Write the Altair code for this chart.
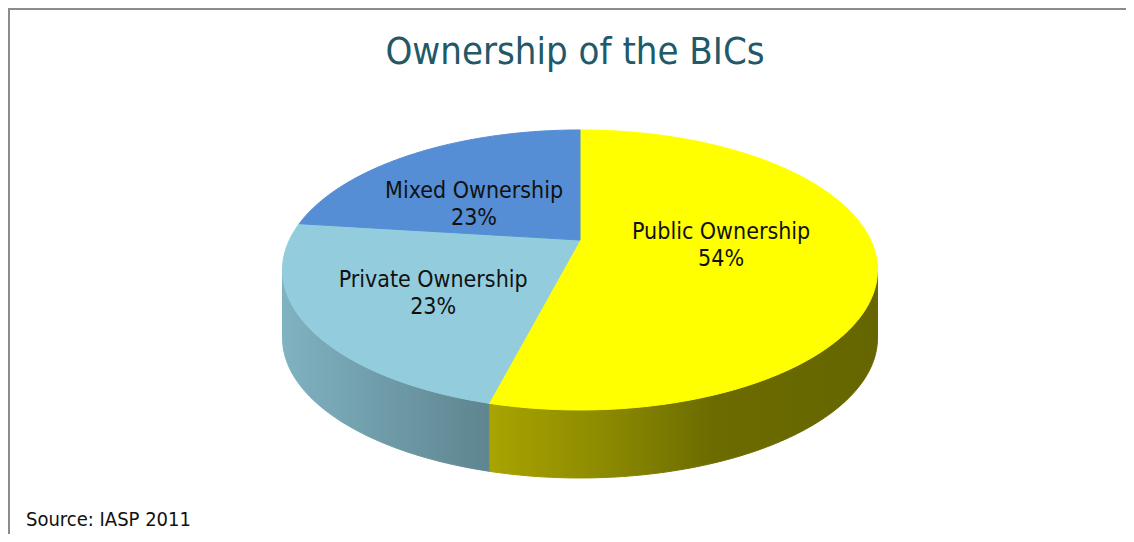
import altair as alt
import numpy as np
import pandas as pd

# ---- data ----
categories = ["Public Ownership", "Private Ownership", "Mixed Ownership"]
shares = [54, 23, 23]
pct_labels = ["54%", "23%", "23%"]
title_text = "Ownership of the BICs"
source_text = "Source: IASP 2011"

# ---- styles / layout ----
top_colors = ["#FFFF00", "#93CDDD", "#558ED5"]
side_gradients = {
    "Public Ownership": [("#A8A400", 0.0), ("#8C8A00", 0.3), ("#6B6B00", 0.58), ("#666600", 1.0)],
    "Private Ownership": [("#80B2C1", 0.0), ("#6F9BA8", 0.5), ("#5E8590", 1.0)],
}
label_nudges = [(-5, -16), (-19, 0), (-17, -3)]  # pixel nudges for the slice labels

W, H = 1118, 526
# perspective-projected disc: centre, horizontal / vertical scale, perspective k, wall depth
CX, CY, G, F, K, DEPTH = 572.0, 232.0, 290.6, 133.6, 0.214, 68.0
FONT = "DejaVu Sans Condensed, DejaVu Sans"


def pt(theta_deg, r=1.0, dy=0.0):
    t = np.radians(theta_deg)
    X, Z = r * np.sin(t), r * np.cos(t)
    den = 1.0 + K * Z
    return [float(CX + G * X / den), float(CY - F * Z / den + dy)]


def arc(a, b, dy=0.0):
    n = max(int(abs(b - a)), 2)
    return [pt(t, 1.0, dy) for t in np.linspace(a, b, n + 1)]


theta_w = float(np.degrees(np.arccos(-K)))  # silhouette (widest) angles
cum = np.concatenate([[0.0], np.cumsum(shares)]) / sum(shares) * 360.0

top_feats, side_feats, lbl_rows = [], {}, []
for i, name in enumerate(categories):
    a, b = cum[i], cum[i + 1]
    centre = pt(0.0, 0.0)
    ring = [centre] + arc(a, b) + [centre]
    top_feats.append({"type": "Feature", "properties": {"name": name},
                      "geometry": {"type": "Polygon", "coordinates": [ring]}})
    lo, hi = max(a, theta_w), min(b, 360.0 - theta_w)
    if lo < hi:
        top = arc(lo, hi)
        bot = arc(hi, lo, DEPTH)
        sring = top + bot + [top[0]]
        side_feats[name] = {"type": "Feature", "properties": {"name": name},
                            "geometry": {"type": "Polygon", "coordinates": [sring]}}
    lx, ly = pt((a + b) / 2, 0.5)
    lbl_rows.append({
        "label": name + "\n" + pct_labels[i],
        "lx": lx + label_nudges[i][0],
        "ly": ly + label_nudges[i][1],
    })

proj = dict(type="identity", scale=1, translate=[0, 0])


def geo_data(feats):
    return alt.InlineData(values={"type": "FeatureCollection", "features": feats},
                          format=alt.DataFormat(property="features", type="json"))


layers = []

# frame lines (top and left)
frame = pd.DataFrame({"k": [0]})
layers.append(alt.Chart(frame).mark_rule(color="#8C8C8C", strokeWidth=2).encode(
    x=alt.value(0), x2=alt.value(W), y=alt.value(1)))
layers.append(alt.Chart(frame).mark_rule(color="#8C8C8C", strokeWidth=2).encode(
    x=alt.value(1), y=alt.value(0), y2=alt.value(H)))

# side walls with horizontal gradients
for name, feat in side_feats.items():
    grad = alt.LinearGradient(
        gradient="linear",
        stops=[alt.GradientStop(color=c, offset=o) for c, o in side_gradients[name]],
        x1=0, x2=1, y1=0, y2=0)
    layers.append(alt.Chart(geo_data([feat])).mark_geoshape(
        fill=grad, stroke=grad, strokeWidth=1).project(**proj))

# top faces
layers.append(alt.Chart(geo_data(top_feats)).mark_geoshape(strokeWidth=1).encode(
    fill=alt.Fill("properties.name:N", scale=alt.Scale(domain=categories, range=top_colors), legend=None),
    stroke=alt.Stroke("properties.name:N", scale=alt.Scale(domain=categories, range=top_colors), legend=None),
).project(**proj))

# slice labels
lbl_df = pd.DataFrame(lbl_rows)
layers.append(alt.Chart(lbl_df).mark_text(
    lineBreak="\n", fontSize=23, lineHeight=27, font=FONT, color="#111111",
    align="center", baseline="middle").encode(
    longitude="lx:Q", latitude="ly:Q", text="label:N").project(**proj))

# title
layers.append(alt.Chart(pd.DataFrame({"t": [title_text]})).mark_text(
    fontSize=38, font=FONT, color="#215968", align="center", baseline="alphabetic").encode(
    x=alt.value(567), y=alt.value(56), text="t:N"))

# source note
layers.append(alt.Chart(pd.DataFrame({"t": [source_text]})).mark_text(
    fontSize=20, font=FONT, color="#111111", align="left", baseline="alphabetic").encode(
    x=alt.value(18), y=alt.value(518), text="t:N"))

chart = alt.layer(*layers).properties(
    width=W, height=H, padding=0,
    autosize=alt.AutoSizeParams(type="none"),
    background="white",
).configure_view(stroke=None)

chart.save("out.html", embed_options={"renderer": "svg", "actions": False})
